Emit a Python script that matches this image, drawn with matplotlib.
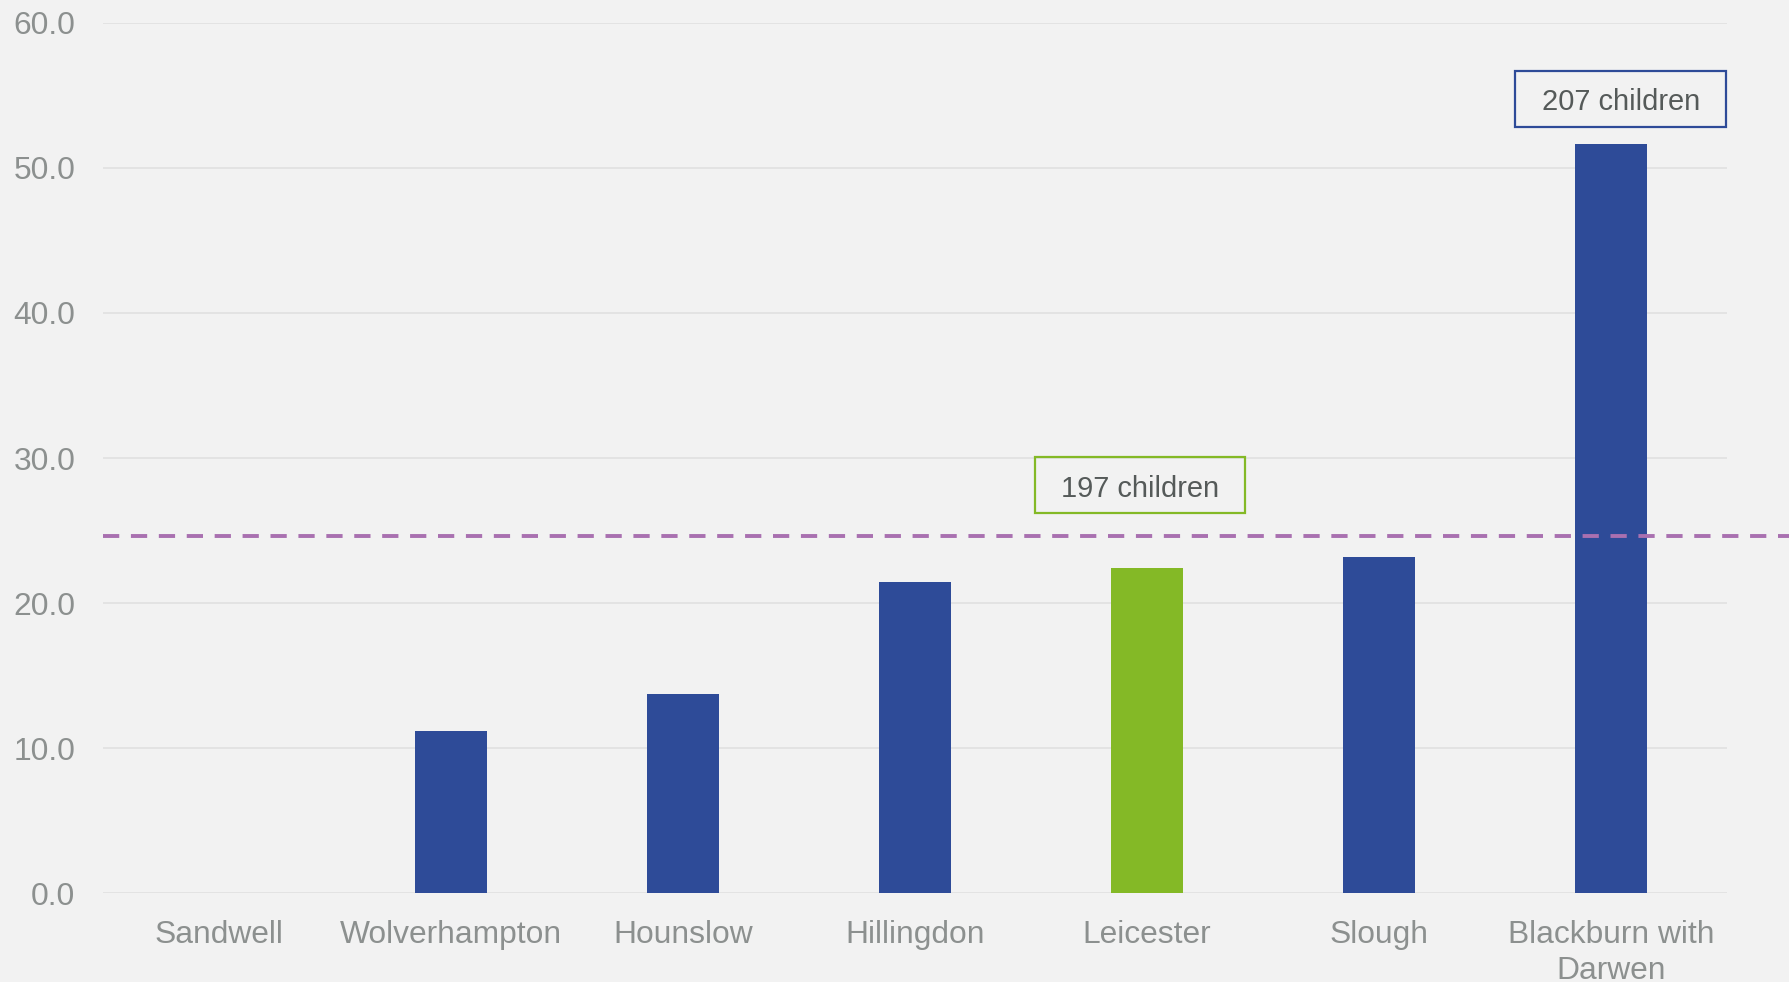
#!/usr/bin/env python3
"""Bar chart of rates by local authority with average line"""

import matplotlib
matplotlib.use('Agg')
import matplotlib.pyplot as plt
from matplotlib.patches import Rectangle

areas = ['Sandwell', 'Wolverhampton', 'Hounslow', 'Hillingdon',
         'Leicester', 'Slough', 'Blackburn with\nDarwen']
rates = [0.0, 11.15, 13.74, 21.46, 22.4, 23.19, 51.66]
highlight = 'Leicester'
average = 24.64
y_ticks = [0, 10, 20, 30, 40, 50, 60]

# callouts: (area index, label, centre y)
callouts = [(6, '207 children', 54.78), (4, '197 children', 28.14)]

BG = '#f2f2f2'
BLUE = '#2e4b98'
GREEN = '#84b926'
PURPLE = '#a970b0'
GRID = '#e2e2e2'
TICK = '#8c908f'
TEXT = '#555a59'

plt.rcParams['font.family'] = ['Liberation Sans', 'DejaVu Sans']
plt.rcParams['lines.scale_dashes'] = False

fig = plt.figure(figsize=(17.89, 9.82), dpi=100, facecolor=BG)
ax = fig.add_axes([0.0576, 0.0906, 0.9077, 0.886], facecolor=BG)

colors = [GREEN if a == highlight else BLUE for a in areas]
x = range(len(areas))
ax.bar(x, rates, width=0.313, color=colors, zorder=2)

ax.set_xlim(-0.5, len(areas) - 0.5)
ax.set_ylim(0, 60)
ax.set_yticks(y_ticks)
ax.set_yticklabels(['%.1f' % t for t in y_ticks])
ax.set_xticks(list(x))
ax.set_xticklabels(areas, linespacing=1.25)
ax.grid(axis='y', color=GRID, linewidth=1.3, zorder=0)
ax.set_axisbelow(True)
for s in ax.spines.values():
  s.set_visible(False)
ax.tick_params(axis='both', length=0, labelsize=22.9, colors=TICK)
ax.tick_params(axis='y', pad=20)
ax.tick_params(axis='x', pad=19.5)

# average line runs past the plot area to the figure edge
ax.axhline(average, xmin=0, xmax=1.04, color=PURPLE, linewidth=2.8,
           dashes=(11.7, 8.4), clip_on=False, zorder=3)

box_w, box_h = 0.909, 3.86
for idx, label, yc in callouts:
  xc = idx + (0.043 if idx == 6 else -0.03)
  edge = GREEN if areas[idx] == highlight else BLUE
  ax.add_patch(Rectangle((xc - box_w / 2, yc - box_h / 2), box_w, box_h,
                         facecolor='none', edgecolor=edge, linewidth=1.6,
                         zorder=4, clip_on=False))
  ax.text(xc, yc - 0.25, label, ha='center', va='center', fontsize=20.9,
          color=TEXT, zorder=5)

fig.savefig('out.png', dpi=100, facecolor=BG)
